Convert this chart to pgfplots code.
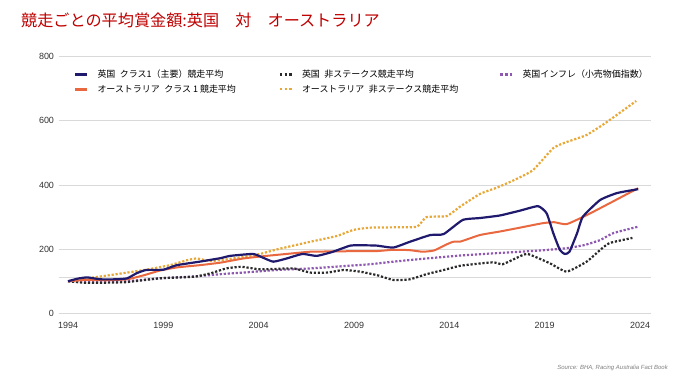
\documentclass[border=0pt]{standalone}
\usepackage{fontspec}
\setmainfont{Liberation Sans}
\newfontfamily\jp{Noto Sans CJK JP}
\usepackage{pgfplots}
\pgfplotsset{compat=1.18}
\definecolor{cnavy}{HTML}{1F1A6E}
\definecolor{corange}{HTML}{E9683F}
\definecolor{cyellow}{HTML}{E8A838}
\definecolor{cblack}{HTML}{2A2A2A}
\definecolor{cpurple}{HTML}{8E58B2}
\definecolor{ctitle}{HTML}{C00000}
\definecolor{cgrid}{HTML}{D9D9D9}
\definecolor{ctick}{HTML}{333333}
\newcommand{\sep}{\hspace{0.5em}}
\begin{document}
\begin{tikzpicture}[x=1bp,y=1bp]
\path[use as bounding box, fill=white] (0,0) rectangle (689,391);
\node[anchor=west, text=ctitle, font=\jp\fontsize{16.2}{19}\selectfont, inner sep=0] at (21,371) {競走ごとの平均賞金額:英国　対　オーストラリア};
\node[anchor=east, text=gray, font=\fontsize{6}{7}\selectfont\itshape, inner sep=0] at (668,23) {Source: BHA, Racing Australia Fact Book};
\begin{axis}[
  at={(58.5bp,77.7bp)}, anchor=south west,
  scale only axis, width=592bp, height=256.6bp,
  xmin=1993.5, xmax=2024.55, ymin=0, ymax=800,
  axis line style={draw=none},
  major tick length=0pt,
  xtick={1994,1999,2004,2009,2014,2019,2024},
  ytick={0,200,400,600,800},
  extra y ticks={113}, extra y tick labels={},
  extra y tick style={grid=major},
  ymajorgrids,
  grid style={cgrid, line width=0.9bp},
  tick label style={font=\fontsize{9}{10}\selectfont, text=ctick},
  /pgf/number format/assume math mode=true,
  /pgf/number format/1000 sep={},
  xticklabel style={yshift=-5bp},
  yticklabel style={xshift=-1bp},
  legend columns=3,
  legend cell align=left,
  legend style={at={(0.02,0.965)}, anchor=north west, draw=none, fill=none,
    font=\jp\fontsize{9}{10}\selectfont, row sep=1.5bp,
    /tikz/every even column/.append style={column sep=0bp}},
  legend image code/.code={\draw[#1] (0bp,0bp) -- (12bp,0bp);},
]
\addlegendimage{cnavy, line width=3bp}
\addlegendentry{\makebox[186bp][l]{\hspace{7bp}英国\sep クラス1（主要）競走平均}}
\addlegendimage{cblack, line width=2.5bp, dash pattern=on 2.5bp off 2.25bp}
\addlegendentry{\makebox[202bp][l]{\hspace{7bp}英国\sep 非ステークス競走平均}}
\addlegendimage{cpurple, line width=2.5bp, dash pattern=on 2.5bp off 2.25bp}
\addlegendentry{\hspace{7bp}英国インフレ（小売物価指数）}
\addlegendimage{corange, line width=3bp}
\addlegendentry{\makebox[186bp][l]{\hspace{7bp}オーストラリア\sep クラス 1 競走平均}}
\addlegendimage{cyellow, line width=2.5bp, dash pattern=on 2.5bp off 2.25bp}
\addlegendentry{\makebox[202bp][l]{\hspace{7bp}オーストラリア\sep 非ステークス競走平均}}

% UK RPI
\addplot[forget plot, cpurple, line width=2.2bp, dash pattern=on 2.2bp off 1.8bp, smooth, tension=0.3] coordinates {
(1994,100)(1995,98)(1997,100)(1998.8,109)(2000.6,115)(2001.45,119)(2002,122)(2003.2,127)(2004.94,135)(2006.7,140)(2008.44,147)(2009.84,153)(2011.06,161)(2012.8,171)(2014.55,180)(2016.3,187)(2017.7,192)(2019,197)(2020.15,203)(2021.1,213)(2021.9,228)(2022.6,250)(2023.9,270)};
% UK non-stakes
\addplot[forget plot, cblack, line width=2.2bp, dash pattern=on 2.2bp off 1.8bp, smooth, tension=0.3] coordinates {
(1994,100)(1995,95)(1997,97)(1998.8,109)(2000.6,114)(2001.5,125)(2002.3,140)(2003.1,145)(2004.1,137)(2005.8,140)(2006.7,127)(2007.6,127)(2008.44,135)(2009.3,130)(2010.2,119)(2011.06,104)(2011.93,106)(2012.8,122)(2013.7,135)(2014.55,148)(2015.4,154)(2016.3,159)(2016.8,153)(2017.5,172)(2018.1,185)(2019.27,156)(2020.15,130)(2021.2,161)(2021.9,197)(2022.4,219)(2023.6,235)};
% AUS non-stakes
\addplot[forget plot, cyellow, line width=2.2bp, dash pattern=on 2.2bp off 1.8bp, smooth, tension=0.3] coordinates {
(1994,100)(1995,109)(1996.2,119)(1998,135)(1999.35,150)(2000.2,165)(2000.75,171)(2001.45,163)(2002.3,168)(2003.2,176)(2004.07,185)(2004.94,199)(2006.7,223)(2008.1,241)(2008.96,260)(2009.84,267)(2011.06,268)(2012.3,270)(2012.8,300)(2013.86,303)(2014.55,332)(2015.6,372)(2016.5,392)(2017.2,410)(2017.7,424)(2018.4,447)(2019.45,515)(2020.15,534)(2021.2,556)(2022.25,596)(2023.8,662)};
% AUS class 1
\addplot[forget plot, corange, line width=2bp, smooth, tension=0.3] coordinates {
(1994,100)(1995,104)(1996,103)(1997.1,106)(1998,119)(1998.8,133)(1999.7,143)(2000.9,150)(2002,158)(2003.2,171)(2004.4,179)(2005.8,187)(2006.7,192)(2008,193)(2009.3,194)(2010.2,194)(2011.06,198)(2011.9,197)(2012.6,192)(2013.2,196)(2013.86,215)(2014.2,223)(2014.6,224)(2015.6,244)(2016.65,255)(2017.7,267)(2018.9,281)(2019.5,284)(2020.15,278)(2021.2,306)(2022.4,343)(2023.9,390)};
% UK class 1
\addplot[forget plot, cnavy, line width=2.2bp, smooth, tension=0.3] coordinates {
(1994,100)(1994.5,108)(1995,112)(1995.7,106)(1996.5,106)(1997.1,109)(1997.6,125)(1998.1,135)(1999,136)(1999.7,150)(2000.9,161)(2002,172)(2002.5,179)(2003.7,185)(2004.24,173)(2004.77,161)(2005.47,171)(2006.3,185)(2007.04,179)(2007.9,192)(2008.8,211)(2009.5,212)(2010.2,211)(2011.06,205)(2011.93,223)(2013.0,244)(2013.7,247)(2014.7,291)(2015.6,297)(2016.65,305)(2017.7,320)(2018.65,334)(2019.1,312)(2019.45,250)(2019.8,197)(2020.06,185)(2020.3,192)(2020.7,250)(2021,301)(2021.9,353)(2022.8,375)(2023.9,387)};
\end{axis}
\end{tikzpicture}
\end{document}
